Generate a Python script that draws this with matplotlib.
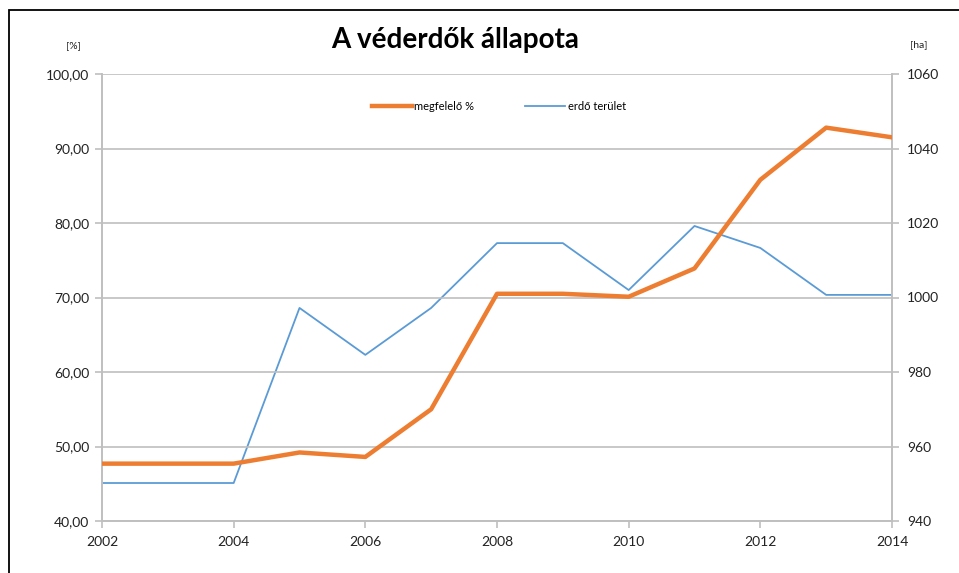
import matplotlib.pyplot as plt
from matplotlib.patches import Rectangle

plt.rcParams['font.family'] = ['Lato', 'DejaVu Sans']

years = [2002, 2003, 2004, 2005, 2006, 2007, 2008, 2009, 2010, 2011, 2012, 2013, 2014]
megfelelo = [47.7, 47.7, 47.7, 49.2, 48.6, 55.0, 70.5, 70.5, 70.1, 73.9, 85.8, 92.8, 91.5]
terulet = [950.2, 950.2, 950.2, 997.2, 984.6, 997.2, 1014.6, 1014.6, 1002.0, 1019.2, 1013.3, 1000.7, 1000.7]

left_ticks = [40, 50, 60, 70, 80, 90, 100]
right_ticks = [940, 960, 980, 1000, 1020, 1040, 1060]
x_ticks = [2002, 2004, 2006, 2008, 2010, 2012, 2014]

orange = '#ED7D31'
blue = '#5B9BD5'
grid_c = '#BFBFBF'
text_c = '#222222'

fig = plt.figure(figsize=(9.59, 5.73), dpi=100)
ax = fig.add_axes([102 / 959, 1 - 521 / 573, 790 / 959, 447 / 573])
ax2 = ax.twinx()

# outer frame (cut by image edge on right/bottom)
fig.patches.append(Rectangle((9 / 959, -0.1), 1.2, 1 - 10 / 573 + 0.1,
                             transform=fig.transFigure, fill=False,
                             edgecolor='black', linewidth=1.3))

l1, = ax.plot(years, megfelelo, color=orange, linewidth=3.2, label='megfelelő %',
              solid_joinstyle='round', zorder=3)
l2, = ax2.plot(years, terulet, color=blue, linewidth=1.3, label='erdő terület')

ax.set_xlim(2002, 2014)
ax.set_ylim(40, 100)
ax2.set_ylim(940, 1060)
ax.set_xticks(x_ticks)
ax.set_yticks(left_ticks)
ax2.set_yticks(right_ticks)
ax.set_yticklabels(['%d,00' % v for v in left_ticks])
ax.set_xticklabels([str(v) for v in x_ticks])

ax.yaxis.grid(True, color=grid_c, linewidth=1.2)
ax.set_axisbelow(True)
for a in (ax, ax2):
    for s in a.spines.values():
        s.set_color(grid_c)
        s.set_linewidth(1.2)
    a.spines['top'].set_visible(False)
    a.tick_params(colors=grid_c, labelcolor=text_c, labelsize=10, length=5, width=1.2)
ax.tick_params(axis='y', pad=4)
ax2.tick_params(axis='y', pad=6)
ax.tick_params(axis='x', pad=6)

ax.set_zorder(ax2.get_zorder() + 1)
ax.patch.set_visible(False)

fig.text(455 / 959, 1 - 40 / 573, 'A véderdők állapota', ha='center', va='center',
         fontsize=20, fontweight='bold', color='black')
fig.text(73 / 959, 1 - 46 / 573, '[%]', ha='center', va='center', fontsize=7.5, color=text_c)
fig.text(919 / 959, 1 - 45 / 573, '[ha]', ha='center', va='center', fontsize=7.5, color=text_c)

fig.legend(handles=[l1, l2], loc='center', bbox_to_anchor=(499 / 959, 1 - 106 / 573),
           ncol=2, frameon=False, fontsize=8, handlelength=3.6, handletextpad=0.2,
           columnspacing=4.6)

fig.savefig('out.png', dpi=100)
